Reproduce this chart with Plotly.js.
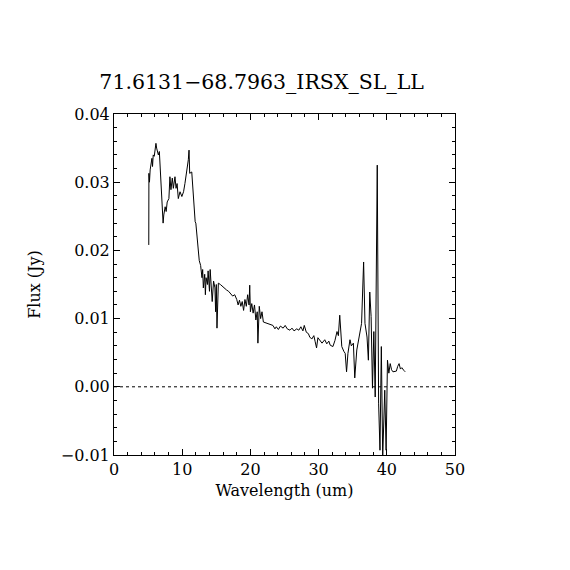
<!DOCTYPE html>
<html>
<head>
<meta charset="utf-8">
<script src="https://cdn.plot.ly/plotly-3.0.1.min.js"></script>
<style>html,body{margin:0;padding:0;background:#fff;}#chart{width:570px;height:570px;}</style>
</head>
<body>
<div id="chart"></div>
<script>
const chartTitle = "71.6131\u221268.7963_IRSX_SL_LL";
const xLabel = "Wavelength (um)";
const yLabel = "Flux (Jy)";

const wavelength = [
  5.10, 5.12, 5.20, 5.30, 5.42, 5.56, 5.65, 5.75, 5.90, 6.05, 6.15, 6.25, 6.35, 6.50, 6.65, 6.85,
  7.00, 7.14, 7.20, 7.30, 7.50, 7.65, 7.80, 8.05, 8.20, 8.35, 8.55, 8.70, 8.94, 9.10, 9.25, 9.43,
  9.68, 9.95, 10.20, 10.40, 10.66, 10.90, 11.00, 11.10, 11.40, 11.60, 11.70, 11.90, 12.00, 12.30,
  12.50, 12.70, 12.90, 13.00, 13.10, 13.30, 13.40, 13.50, 13.70, 13.80, 14.00, 14.10, 14.30, 14.40,
  14.60, 14.80, 14.90, 15.00, 15.10, 15.20, 15.30, 15.60, 15.90, 16.20, 16.50, 16.80, 17.10, 17.40,
  17.70, 18.00, 18.20, 18.40, 18.60, 18.80, 19.00, 19.20, 19.40, 19.60, 19.80, 19.90, 20.00, 20.20,
  20.40, 20.60, 20.80, 21.00, 21.10, 21.30, 21.50, 21.70, 21.90, 22.40, 22.90, 23.30, 23.60, 23.80,
  24.10, 24.40, 24.80, 25.10, 25.40, 25.80, 26.10, 26.40, 26.80, 27.10, 27.40, 27.70, 27.90, 28.20,
  28.50, 28.70, 29.00, 29.30, 29.50, 29.70, 29.90, 30.20, 30.50, 30.90, 31.20, 31.50, 31.70, 32.10,
  32.40, 32.70, 32.90, 33.10, 33.40, 33.70, 33.90, 34.10, 34.30, 34.60, 34.80, 35.10, 35.30, 35.60,
  35.90, 36.30, 36.60, 36.80, 37.10, 37.30, 37.50, 37.70, 37.90, 38.10, 38.30, 38.50, 38.60, 38.80,
  39.00, 39.20, 39.40, 39.70, 39.90, 40.10, 40.30, 40.50, 40.70, 40.90, 41.20, 41.40, 41.60, 41.80,
  42.00, 42.20, 42.50, 42.70
];
const flux = [
  0.0208, 0.0313, 0.0300, 0.0318, 0.0325, 0.0335, 0.0323, 0.0340, 0.0338, 0.0352, 0.0357, 0.0350, 0.0345, 0.0340, 0.0345, 0.0306,
  0.0281, 0.0267, 0.0240, 0.0252, 0.0264, 0.0257, 0.0271, 0.0276, 0.0308, 0.0289, 0.0306, 0.0291, 0.0308, 0.0291, 0.0298, 0.0276,
  0.0286, 0.0279, 0.0286, 0.0298, 0.0315, 0.0333, 0.0347, 0.0313, 0.0315, 0.0279, 0.0276, 0.0242, 0.0240, 0.0203,
  0.0185, 0.0178, 0.0160, 0.0172, 0.0145, 0.0165, 0.0135, 0.0160, 0.0150, 0.0170, 0.0140, 0.0172, 0.0148, 0.0125,
  0.0155, 0.0145, 0.0110, 0.0150, 0.0086, 0.0135, 0.0152, 0.0150, 0.0147, 0.0145, 0.0142, 0.0140, 0.0137, 0.0133,
  0.0135, 0.0128, 0.0120, 0.0127, 0.0118, 0.0125, 0.0112, 0.0128, 0.0118, 0.0135, 0.0120, 0.0149, 0.0110, 0.0122,
  0.0108, 0.0120, 0.0098, 0.0110, 0.0064, 0.0118, 0.0100, 0.0110, 0.0095, 0.0093, 0.0092, 0.0090, 0.0085, 0.0088,
  0.0084, 0.0089, 0.0086, 0.0090, 0.0085, 0.0083, 0.0086, 0.0082, 0.0085, 0.0083, 0.0088, 0.0082, 0.0090, 0.0080,
  0.0078, 0.0073, 0.0070, 0.0075, 0.0066, 0.0057, 0.0072, 0.0068, 0.0064, 0.0069, 0.0063, 0.0067, 0.0061, 0.0059,
  0.0068, 0.0081, 0.0075, 0.0105, 0.0059, 0.0052, 0.0049, 0.0022, 0.0049, 0.0069, 0.0060, 0.0064, 0.0013, 0.0054,
  0.0069, 0.0093, 0.0183, 0.0093, 0.0073, 0.0039, 0.0139, 0.0103, -0.0002, 0.0081, -0.0015, 0.0181, 0.0325, -0.0024,
  -0.0093, 0.0059, -0.0103, -0.0005, -0.0093, 0.0039, 0.0020, 0.0034, 0.0025, 0.0022, 0.0022, 0.0023, 0.0030, 0.0034,
  0.0026, 0.0028, 0.0024, 0.0022
];
const xTicks = [0, 10, 20, 30, 40, 50];
const yTicks = [-0.01, 0.00, 0.01, 0.02, 0.03, 0.04];

const font = {family: "DejaVu Serif", color: "#000"};
const axisCommon = {
  showgrid: false, zeroline: false, showline: true, linecolor: "#000", linewidth: 1,
  mirror: "allticks", ticks: "inside", ticklen: 6, tickwidth: 1, tickcolor: "#000",
  tickfont: {family: "DejaVu Serif", size: 16, color: "#000"},
  minor: {ticks: "inside", ticklen: 3, tickwidth: 1, tickcolor: "#000"}
};

const data = [{
  x: wavelength, y: flux, type: "scatter", mode: "lines",
  line: {color: "#000", width: 1}, hoverinfo: "skip"
}];

const layout = {
  width: 570, height: 570,
  paper_bgcolor: "#fff", plot_bgcolor: "#fff",
  margin: {l: 114, r: 115, t: 114, b: 115},
  showlegend: false,
  font: font,
  title: {text: chartTitle, font: {family: "DejaVu Serif", size: 20.5, color: "#000"},
          xref: "container", yref: "container", x: 0.459, y: 0.856, xanchor: "center", yanchor: "middle"},
  xaxis: Object.assign({}, axisCommon, {
    range: [0, 50], tickvals: xTicks, ticktext: xTicks.map(String),
    minor: Object.assign({}, axisCommon.minor, {dtick: 2, tick0: 0}),
    title: {text: xLabel, font: {family: "DejaVu Serif", size: 16, color: "#000"}, standoff: 6}
  }),
  yaxis: Object.assign({}, axisCommon, {
    range: [-0.01, 0.04], tickvals: yTicks, tickformat: ".2f",
    minor: Object.assign({}, axisCommon.minor, {dtick: 0.002, tick0: 0}),
    title: {text: yLabel, font: {family: "DejaVu Serif", size: 16, color: "#000"}, standoff: 16}
  }),
  shapes: [{
    type: "line", xref: "x", yref: "y", x0: 0, x1: 50, y0: 0, y1: 0,
    line: {color: "#000", width: 1, dash: "dot"}
  }]
};

Plotly.newPlot("chart", data, layout, {staticPlot: true, displayModeBar: false});
</script>
</body>
</html>
